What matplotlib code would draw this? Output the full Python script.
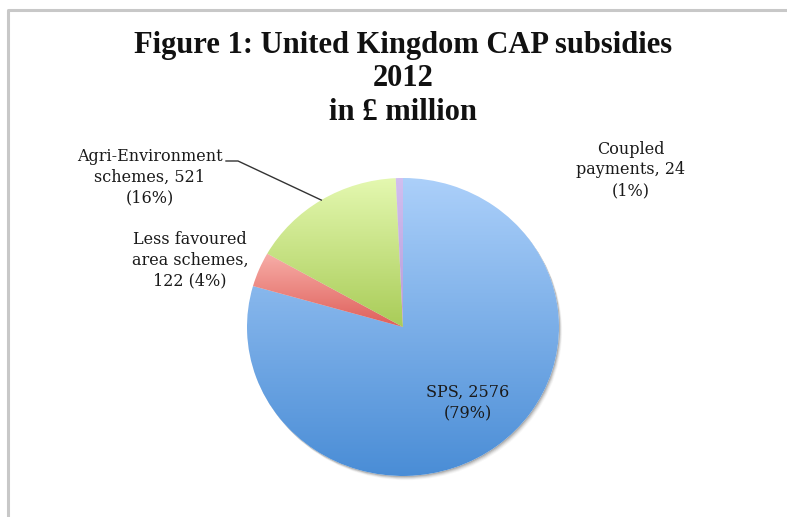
import numpy as np
import matplotlib
matplotlib.use("Agg")
import matplotlib.pyplot as plt
from matplotlib.colors import LinearSegmentedColormap
from matplotlib.patches import Ellipse

# CAP subsidies, UK 2012, £ million
categories = ["SPS", "Less favoured\narea schemes", "Agri-Environment\nschemes", "Coupled\npayments"]
values = [2576, 122, 521, 24]

# gradient colours (top, bottom) per slice
grad_colors = [("#acd0fa", "#4a8dd6"),
               ("#f7aea8", "#df5f5a"),
               ("#e4f8b0", "#a9cc58"),
               ("#d2bff0", "#b79ad8")]

W, H = 787, 517
fig = plt.figure(figsize=(W / 100, H / 100), dpi=100)

# pie axes: slightly wider than tall
cx, cy, rx, ry = 403, 327, 156, 149
pad = 1.05
ax = fig.add_axes([(cx - rx * pad) / W, (H - cy - ry * pad) / H,
                   2 * rx * pad / W, 2 * ry * pad / H])
ax.set_zorder(1)
ax.axis("off")

# soft drop shadow towards the lower right
for i, a in enumerate(np.linspace(0.12, 0.03, 5)):
    off = 0.004 + 0.004 * i
    ax.add_patch(Ellipse((off, -off * 1.4), 2, 2, color="black", alpha=a,
                         lw=0, zorder=0))

wedges, _ = ax.pie(values, startangle=90, counterclock=False, radius=1,
                   wedgeprops=dict(linewidth=0, edgecolor="none"))

grad = np.linspace(1, 0, 256).reshape(-1, 1)
for w, (ctop, cbot) in zip(wedges, grad_colors):
    w.set_facecolor("white")
    bb = w.get_path().get_extents()
    y0, y1 = max(bb.y0, -1), min(bb.y1, 1)
    cmap = LinearSegmentedColormap.from_list("g", [cbot, ctop])
    im = ax.imshow(grad, cmap=cmap, extent=(-1, 1, y0, y1), aspect="auto",
                   origin="upper", zorder=2, interpolation="bilinear")
    im.set_clip_path(w)
ax.set_aspect("auto")
ax.set_xlim(-pad, pad)
ax.set_ylim(-pad, pad)

# overlay in pixel coordinates for frame and text
ov = fig.add_axes([0, 0, 1, 1])
ov.set_zorder(2)
ov.patch.set_alpha(0)
ov.set_xlim(0, W)
ov.set_ylim(H, 0)
ov.axis("off")

ov.plot([8, 8, W + 5], [H + 5, 9.5, 9.5], color="#c8c8c8", lw=2.2,
        solid_capstyle="butt")

title_kw = dict(ha="center", va="center", fontsize=22, fontweight="bold",
                family="Liberation Serif", color="#111111")
ov.text(403, 45, "Figure 1: United Kingdom CAP subsidies", **title_kw)
ov.text(403, 79, "2012", **title_kw)
ov.text(403, 113, "in £ million", **title_kw)

total = sum(values)
label_kw = dict(ha="center", va="center", fontsize=11.5, family="DejaVu Serif",
                color="#1a1a1a", linespacing=1.3)

def lab(i, sep):
    pct = round(100 * values[i] / total)
    return f"{categories[i]}, {values[i]}{sep}({pct}%)"

ov.text(468, 403, lab(0, "\n"), **label_kw)
ov.text(190, 260, "Less favoured\narea schemes,\n"
        f"{values[1]} ({round(100 * values[1] / total)}%)", **label_kw)
ov.text(150, 177, lab(2, "\n"), **label_kw)
ov.text(631, 170, lab(3, "\n"), **label_kw)

# leader line to the Agri-Environment slice
w = wedges[2]
mid = np.deg2rad((w.theta1 + w.theta2) / 2)
ex, ey = cx + rx * np.cos(mid), cy - ry * np.sin(mid)
ov.plot([226, 238, ex], [161, 161, ey], color="#333333", lw=1)

fig.savefig("out.png", dpi=100)
